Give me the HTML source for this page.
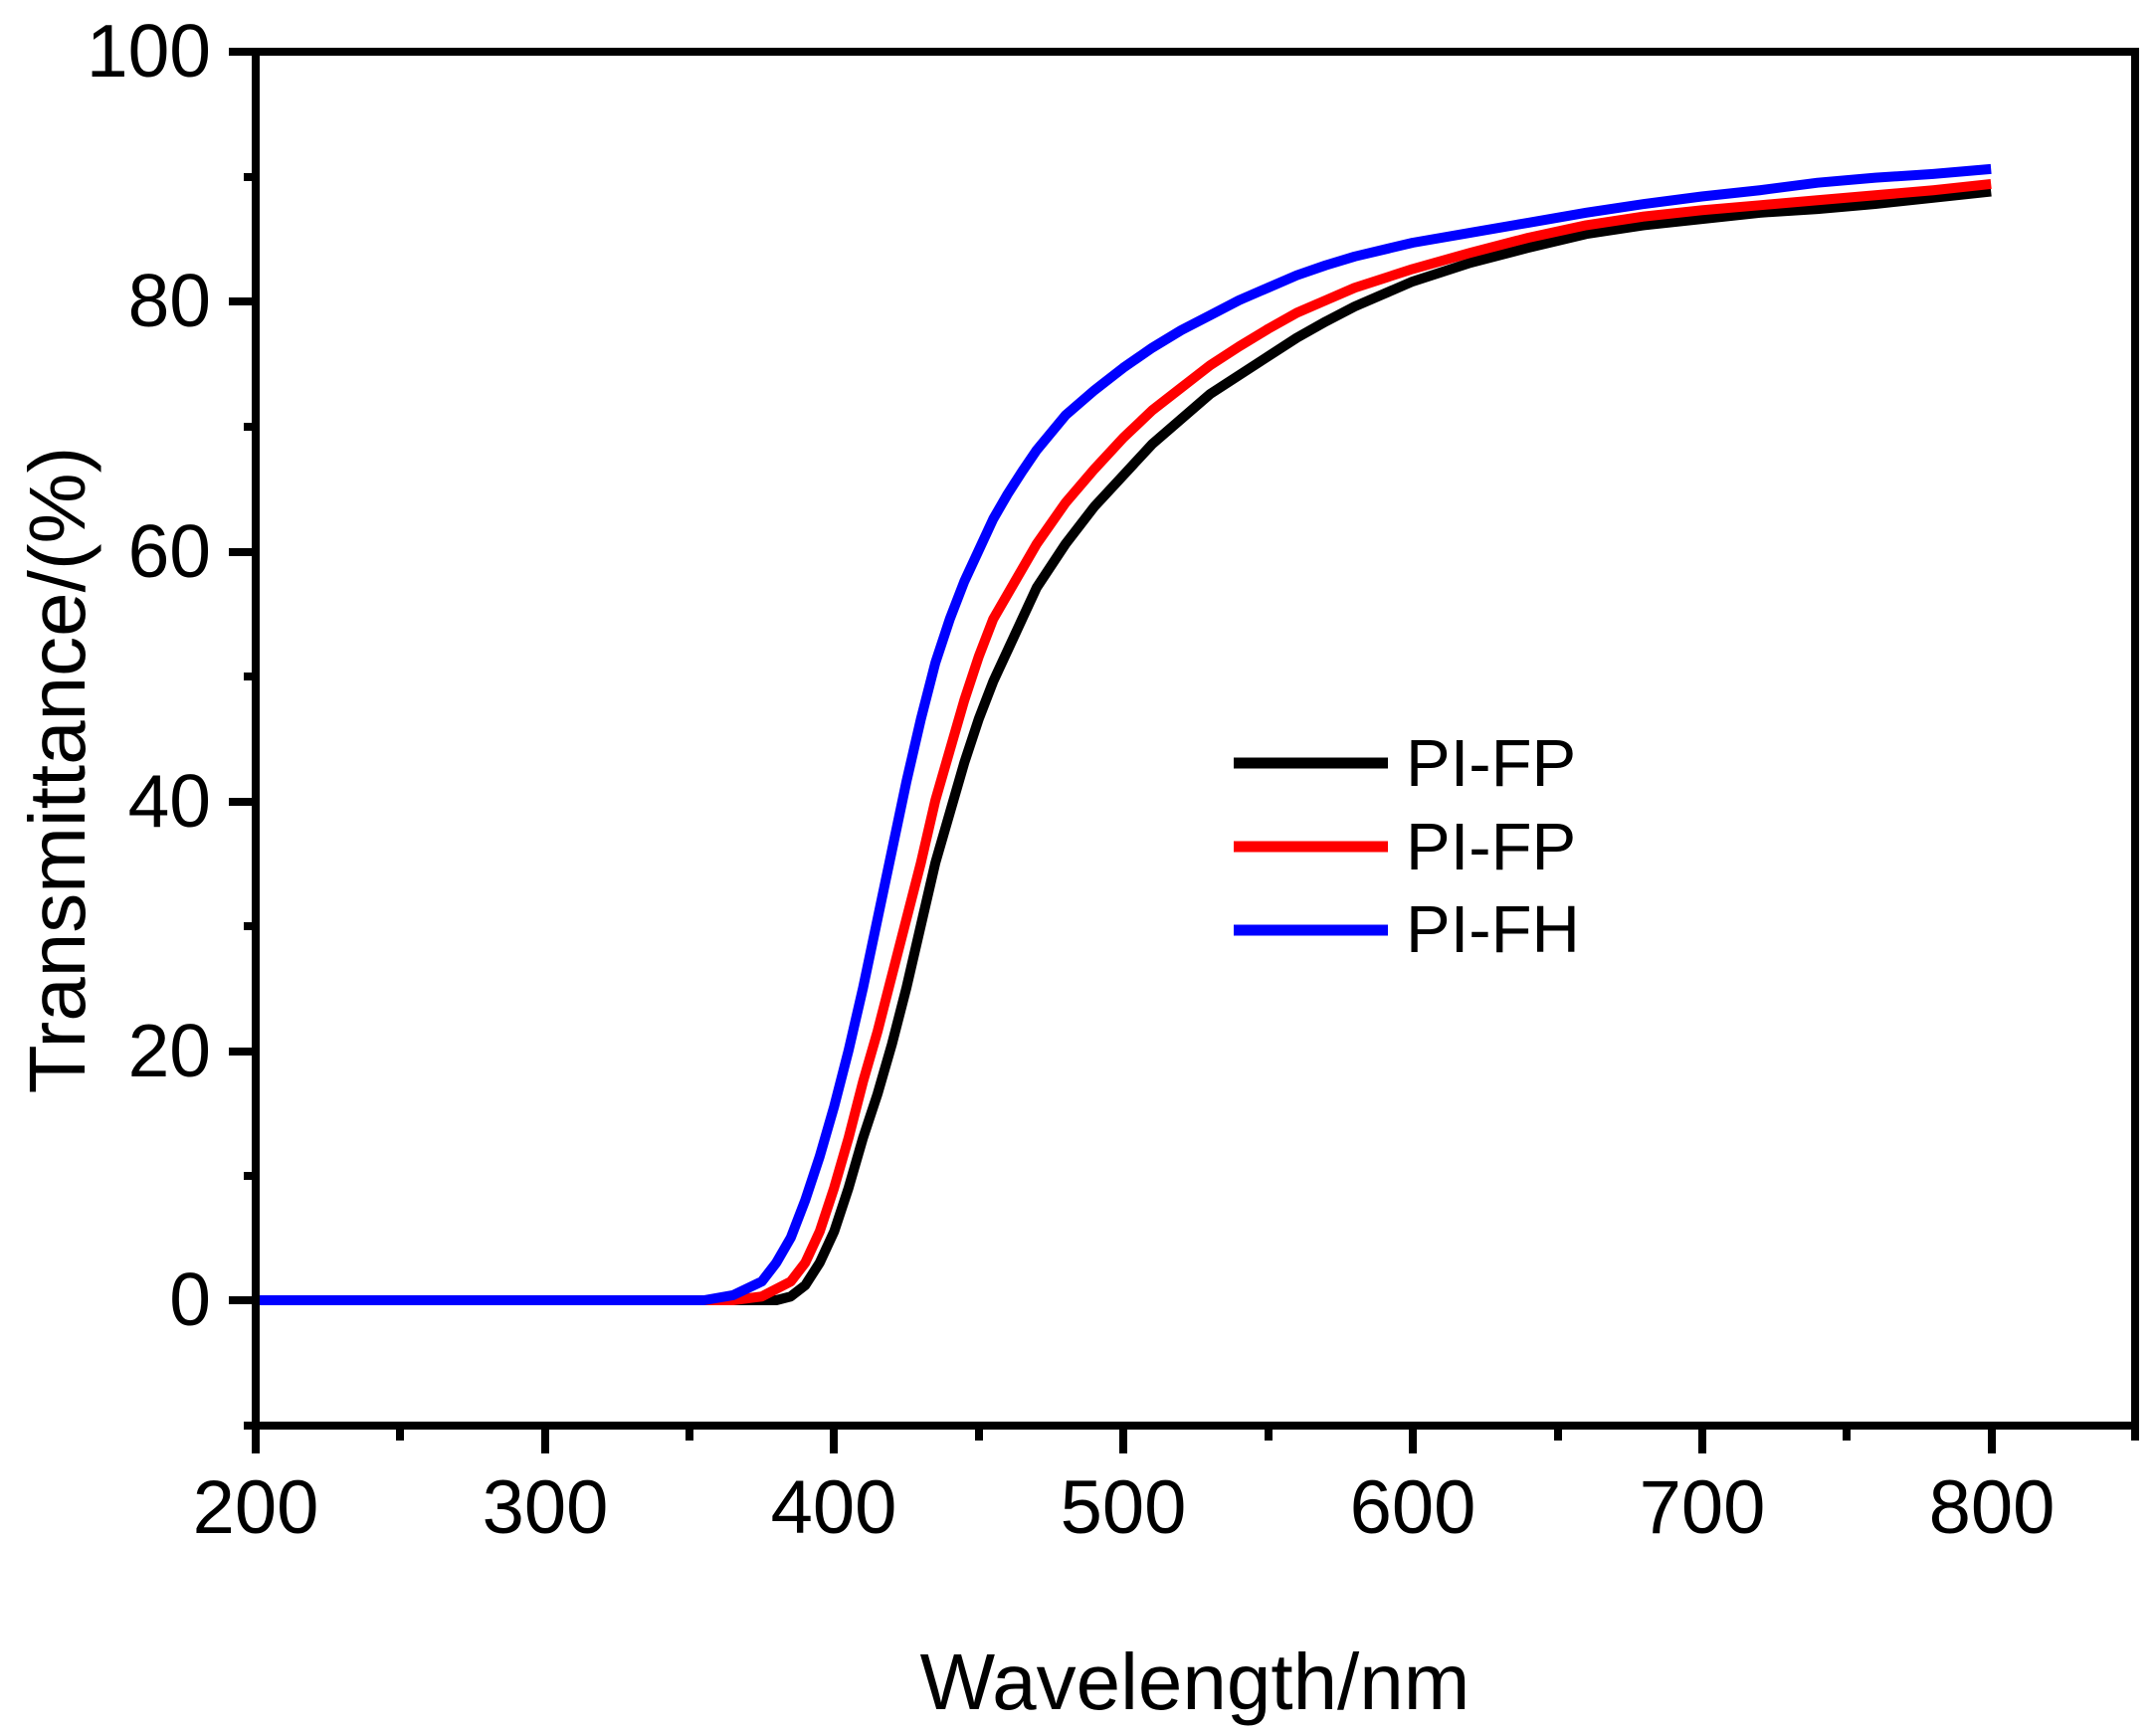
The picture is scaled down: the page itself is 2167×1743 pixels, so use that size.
<!DOCTYPE html>
<html><head><meta charset="utf-8"><style>html,body{margin:0;padding:0;background:#fff}svg{display:block}</style></head>
<body>
<svg width="2167" height="1743" viewBox="0 0 2167 1743" xmlns="http://www.w3.org/2000/svg" font-family="Liberation Sans, Arial, sans-serif">
<rect width="2167" height="1743" fill="#fff"/>
<g transform="translate(257,1307) scale(2.907,-12.565)" fill="none" stroke-width="10" stroke-linejoin="round">
<polyline vector-effect="non-scaling-stroke" stroke="#000" points="0,0 180,0 185,0.3 190,1.2 195,3 200,5.5 205,9 210,13 215,16.5 220,20.5 225,25 230,30 235,35 240,39 245,43 250,46.5 255,49.5 260,52 265,54.5 270,57 280,60.5 290,63.5 300,66 310,68.5 320,70.5 330,72.5 340,74 350,75.5 360,77 370,78.3 380,79.5 390,80.5 400,81.5 420,83 440,84.2 460,85.3 480,86 500,86.5 520,87 540,87.3 560,87.7 580,88.2 600,88.7"/>
<polyline vector-effect="non-scaling-stroke" stroke="#f00" points="0,0 165,0 175,0.3 185,1.5 190,3 195,5.5 200,9 205,13 210,17.5 215,21.5 220,26 225,30.5 230,35 235,40 240,44 245,48 250,51.5 255,54.5 260,56.5 265,58.5 270,60.5 280,63.8 290,66.5 300,69 310,71.2 320,73 330,74.8 340,76.3 350,77.7 360,79 370,80 380,81 400,82.5 420,83.8 440,85 460,86 480,86.7 500,87.2 520,87.6 540,88 560,88.4 580,88.8 600,89.3"/>
<polyline vector-effect="non-scaling-stroke" stroke="#00f" points="0,0 155,0 165,0.4 175,1.5 180,3 185,5 190,8 195,11.5 200,15.5 205,20 210,25 215,30.5 220,36 225,41.5 230,46.5 235,51 240,54.5 245,57.5 250,60 255,62.5 260,64.5 265,66.3 270,68 280,70.8 290,72.8 300,74.6 310,76.2 320,77.6 330,78.8 340,80 350,81 360,82 370,82.8 380,83.5 400,84.6 420,85.4 440,86.2 460,87 480,87.7 500,88.3 520,88.8 540,89.4 560,89.8 580,90.1 600,90.5"/>
</g>
<g stroke="#000" stroke-width="8" fill="none">
<rect x="257" y="52" width="1889" height="1381"/>
<path d="M230 52H257 M230 303H257 M230 555H257 M230 806H257 M230 1057H257 M230 1307H257 M245 178H257 M245 429H257 M245 680H257 M245 931H257 M245 1182H257 M245 1433H257"/>
<path d="M257 1433V1461 M548 1433V1461 M838 1433V1461 M1129 1433V1461 M1420 1433V1461 M1711 1433V1461 M2002 1433V1461 M402 1433V1448 M693 1433V1448 M984 1433V1448 M1275 1433V1448 M1566 1433V1448 M1856 1433V1448 M2146 1433V1448"/>
</g>
<g font-size="75" fill="#000" text-anchor="end">
<text x="212" y="77">100</text><text x="212" y="328">80</text><text x="212" y="580">60</text><text x="212" y="831">40</text><text x="212" y="1082">20</text><text x="212" y="1332">0</text>
</g>
<g font-size="76" fill="#000" text-anchor="middle">
<text x="257" y="1541">200</text><text x="548" y="1541">300</text><text x="838" y="1541">400</text><text x="1129" y="1541">500</text><text x="1420" y="1541">600</text><text x="1711" y="1541">700</text><text x="2002" y="1541">800</text>
</g>
<text x="1201" y="1718" font-size="80" text-anchor="middle">Wavelength/nm</text>
<text transform="translate(85,774) rotate(-90)" font-size="80" text-anchor="middle">Transmittance/(%)</text>
<g stroke-width="11">
<line x1="1240" y1="767" x2="1395" y2="767" stroke="#000"/>
<line x1="1240" y1="851" x2="1395" y2="851" stroke="#f00"/>
<line x1="1240" y1="935" x2="1395" y2="935" stroke="#00f"/>
</g>
<g font-size="67" fill="#000">
<text x="1413" y="790">PI-FP</text><text x="1413" y="874">PI-FP</text><text x="1413" y="957">PI-FH</text>
</g>
</svg>
</body></html>
